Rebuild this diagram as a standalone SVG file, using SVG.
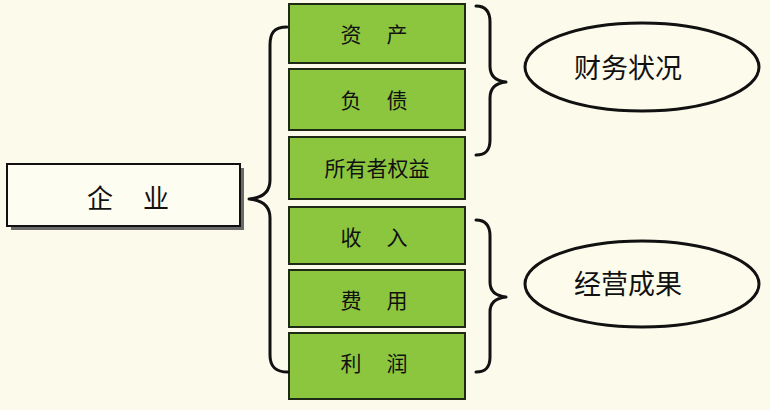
<svg xmlns="http://www.w3.org/2000/svg" width="770" height="410" viewBox="0 0 770 410">
<style>
.g{fill:#8cc63e;stroke:#1e2a14;stroke-width:2}
.t{font-family:"Noto Sans CJK SC","Noto Sans",sans-serif;fill:#111;text-anchor:middle;dominant-baseline:central}
.b{font-size:21px}
.br{fill:none;stroke:#111;stroke-width:3;stroke-linecap:round;stroke-linejoin:round}
.el{fill:#fdfcec;stroke:#111;stroke-width:3}
</style>
<rect width="770" height="410" fill="#fcfbeb"/>
<g id="qiye">
<rect x="11" y="168" width="233" height="62" fill="#6a6a6a"/>
<rect x="7" y="164" width="233" height="62" fill="#fdfdf2" stroke="#111" stroke-width="2"/>
<text class="t" x="100" y="196" font-size="26">企</text><text class="t" x="156" y="196" font-size="26">业</text>
</g>
<g id="zichan"><rect class="g" x="289" y="4" width="176" height="59"/><text class="t b" x="351" y="33">资</text><text class="t b" x="397" y="33">产</text></g>
<g id="fuzhai"><rect class="g" x="289" y="69" width="176" height="61"/><text class="t b" x="351" y="99">负</text><text class="t b" x="397" y="99">债</text></g>
<g id="quanyi"><rect class="g" x="289" y="137" width="176" height="62"/><text class="t" x="377" y="167" font-size="21">所有者权益</text></g>
<g id="shouru"><rect class="g" x="289" y="207" width="176" height="57"/><text class="t b" x="351" y="236">收</text><text class="t b" x="397" y="236">入</text></g>
<g id="feiyong"><rect class="g" x="289" y="270" width="176" height="57"/><text class="t b" x="351" y="299">费</text><text class="t b" x="397" y="299">用</text></g>
<g id="lirun"><rect class="g" x="289" y="333" width="176" height="66"/><text class="t b" x="351" y="362">利</text><text class="t b" x="397" y="362">润</text></g>
<g id="caiwu"><ellipse class="el" cx="642" cy="67" rx="117" ry="44"/><text class="t" x="628" y="66" font-size="27">财务状况</text></g>
<g id="jingying"><ellipse class="el" cx="642" cy="284" rx="117" ry="43"/><text class="t" x="628" y="282" font-size="27">经营成果</text></g>
<g id="connectors">
<path class="br" d="M287,27 C274,27 270,33 270,45 L270,180 C270,192 262,198 249,199 C262,200 270,206 270,218 L270,355 C270,367 276,372 288,372"/>
<path class="br" d="M476,6 C486,6 490,12 490,22 L490,66 C490,76 496,81 506,82 C496,83 490,88 490,98 L490,140 C490,150 486,155 476,155"/>
<path class="br" d="M476,220 C486,220 490,226 490,236 L490,282 C490,292 496,296 506,297 C496,298 490,302 490,312 L490,357 C490,367 486,372 476,372"/>
</g>
</svg>
